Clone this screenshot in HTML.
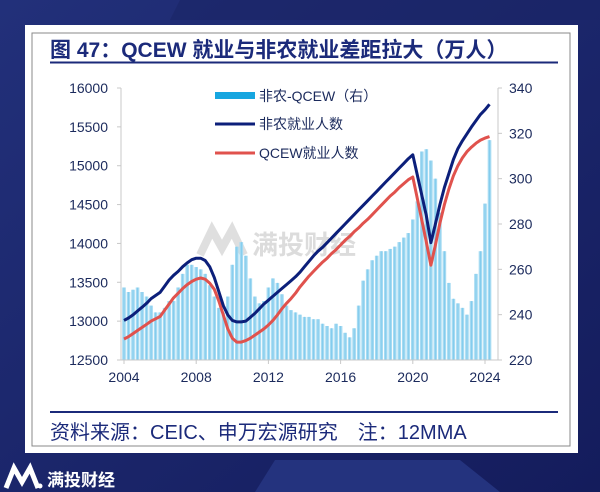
<!DOCTYPE html>
<html><head><meta charset="utf-8"><style>
body{margin:0;width:600px;height:492px;overflow:hidden;background:#18226a;font-family:"Liberation Sans","Noto Sans CJK SC",sans-serif;}
</style></head><body>
<svg width="600" height="492" viewBox="0 0 600 492" style="display:block">
<defs><linearGradient id="bg" x1="0" y1="0" x2="1" y2="1"><stop offset="0" stop-color="#22307a"/><stop offset="1" stop-color="#141c5c"/></linearGradient></defs>
<rect width="600" height="492" fill="url(#bg)"/>
<polygon points="180,0 600,0 600,20 170,20" fill="#1a2466" opacity="0.6"/>
<polygon points="275,460 460,460 500,492 255,492" fill="#24337e"/>
<rect x="25" y="25" width="553" height="428" fill="#fff"/>
<rect x="32" y="33" width="538" height="413" fill="none" stroke="#888" stroke-width="1"/>
<text x="50" y="57" font-size="21" font-weight="bold" fill="#1b2a7a">图 47：QCEW 就业与非农就业差距拉大（万人）</text>
<line x1="50" y1="62.5" x2="558" y2="62.5" stroke="#1b2a7a" stroke-width="2"/>
<g opacity="0.18">
<path d="M200,255 L212,230 L222,248 L232,230 L244,255" fill="none" stroke="#555" stroke-width="8"/>
<text x="252" y="254" font-size="26" font-weight="bold" fill="#444">满投财经</text>
</g>
<g id="plot"></g>
<g>
<rect x="215" y="92" width="40" height="7" fill="#17a6e0"/>
<text x="259" y="101" font-size="14" fill="#1b2a5c">非农-QCEW（右）</text>
<line x1="215" y1="124" x2="255" y2="124" stroke="#0c1f7a" stroke-width="3"/>
<text x="259" y="129" font-size="14" fill="#1b2a5c">非农就业人数</text>
<line x1="215" y1="153" x2="255" y2="153" stroke="#e0524d" stroke-width="3"/>
<text x="259" y="158" font-size="14" fill="#1b2a5c">QCEW就业人数</text>
</g>
<line x1="50" y1="412" x2="558" y2="412" stroke="#1b2a7a" stroke-width="2"/>
<text x="50" y="439" font-size="20" fill="#1b2a7a">资料来源：CEIC、申万宏源研究　注：12MMA</text>
<g>
<path d="M6,488 L14,468 L22,482 L30,468 L38,488" fill="none" stroke="#fff" stroke-width="5"/>
<circle cx="40" cy="486" r="2.5" fill="#fff"/>
</g>
<text x="47" y="486" font-size="17" font-weight="bold" fill="#fff">满投财经</text>
</svg>
<script>
const years=["2004","2008","2012","2016","2020","2024"];
const leftTicks=[12500,13000,13500,14000,14500,15000,15500,16000];
const rightTicks=[220,240,260,280,300,320,340];
const gapBars=[252,250,251,252,250,248,244,241,241,243,246,246,252,258,262,262,261,260,258,253,248,243,241,248,262,270,272,266,256,248,245,246,252,256,254,249,244,242,241,240,239,239,238,238,236,235,234,236,235,232,230,234,244,255,260,264,266,268,268,269,270,272,274,276,282,290,312,313,308,300,285,268,254,247,245,243,240,246,258,268,289,317];
const nonfarm=[13010,13040,13080,13130,13180,13230,13290,13330,13370,13450,13530,13590,13640,13700,13750,13790,13810,13810,13780,13700,13560,13380,13200,13080,13010,12990,12990,13000,13050,13100,13160,13220,13270,13320,13370,13420,13470,13520,13570,13630,13700,13770,13840,13900,13950,14010,14070,14130,14190,14250,14310,14370,14430,14490,14550,14610,14670,14730,14790,14850,14910,14970,15030,15090,15140,14880,14620,14360,14010,14250,14500,14720,14900,15080,15220,15320,15410,15500,15580,15660,15720,15790];
const qcew=[12770,12800,12840,12880,12920,12960,13000,13030,13060,13140,13220,13300,13360,13420,13470,13510,13540,13555,13540,13490,13410,13260,13080,12900,12780,12730,12730,12750,12780,12820,12860,12900,12950,13010,13080,13160,13230,13290,13360,13440,13510,13580,13640,13700,13760,13810,13870,13920,13980,14040,14090,14150,14200,14260,14310,14370,14430,14490,14550,14610,14660,14720,14770,14820,14855,14580,14300,14020,13720,13980,14260,14500,14700,14870,15000,15100,15180,15240,15290,15330,15355,15375];
const NS="http://www.w3.org/2000/svg";
const g=document.getElementById('plot');
const X0=124,PX=18.05,YT=88,YB=360;
function xOf(i){return X0+i*0.25*PX;}
function xYear(y){return X0+(y-2004)*PX;}
function yL(v){return YB-(v-12500)/(16000-12500)*(YB-YT);}
function yR(v){return YB-(v-220)/(340-220)*(YB-YT);}
function mk(t,a){const e=document.createElementNS(NS,t);for(const k in a)e.setAttribute(k,a[k]);g.appendChild(e);return e;}
gapBars.forEach((v,i)=>{
 const r=mk('rect',{x:xOf(i)-1.8,y:yR(v),width:3.6,height:YB-yR(v),fill:'#a4daf2'});
 
 
 const s=mk('line',{x1:xOf(i),y1:yR(v),x2:xOf(i),y2:YB,stroke:'#7cc9ec','stroke-width':0.8});
 
 
});
let ax=mk('line',{x1:121,y1:YT,x2:121,y2:YB,stroke:'#c8c8c8'});


ax=mk('line',{x1:498,y1:YT,x2:498,y2:YB,stroke:'#c8c8c8'});


ax=mk('line',{x1:121,y1:YB,x2:498,y2:YB,stroke:'#c8c8c8'});


leftTicks.forEach(v=>{
 mk('line',{x1:117,y1:yL(v),x2:121,y2:yL(v),stroke:'#c8c8c8'});
 const t=mk('text',{x:108,y:yL(v)+5,'text-anchor':'end','font-size':14,fill:'#1b2a5c'});t.textContent=v;
 
 
});
rightTicks.forEach(v=>{
 mk('line',{x1:498,y1:yR(v),x2:502,y2:yR(v),stroke:'#c8c8c8'});
 const t=mk('text',{x:509,y:yR(v)+5,'font-size':14,fill:'#1b2a5c'});t.textContent=v;
 
 
});
years.forEach(y=>{
 const x=xYear(+y);
 mk('line',{x1:x,y1:YB,x2:x,y2:YB+4,stroke:'#c8c8c8'});
 const t=mk('text',{x:x,y:YB+22,'text-anchor':'middle','font-size':14,fill:'#1b2a5c'});t.textContent=y;
 
 
});
function line(arr,col,name){
 const p=mk('polyline',{points:arr.map((v,i)=>xOf(i).toFixed(1)+','+yL(v).toFixed(1)).join(' '),fill:'none',stroke:col,'stroke-width':3,'stroke-linejoin':'round'});
 
 
}
line(qcew,'#e0524d','qcew-line');
line(nonfarm,'#0c1f7a','nonfarm-line');
</script>
</body></html>
